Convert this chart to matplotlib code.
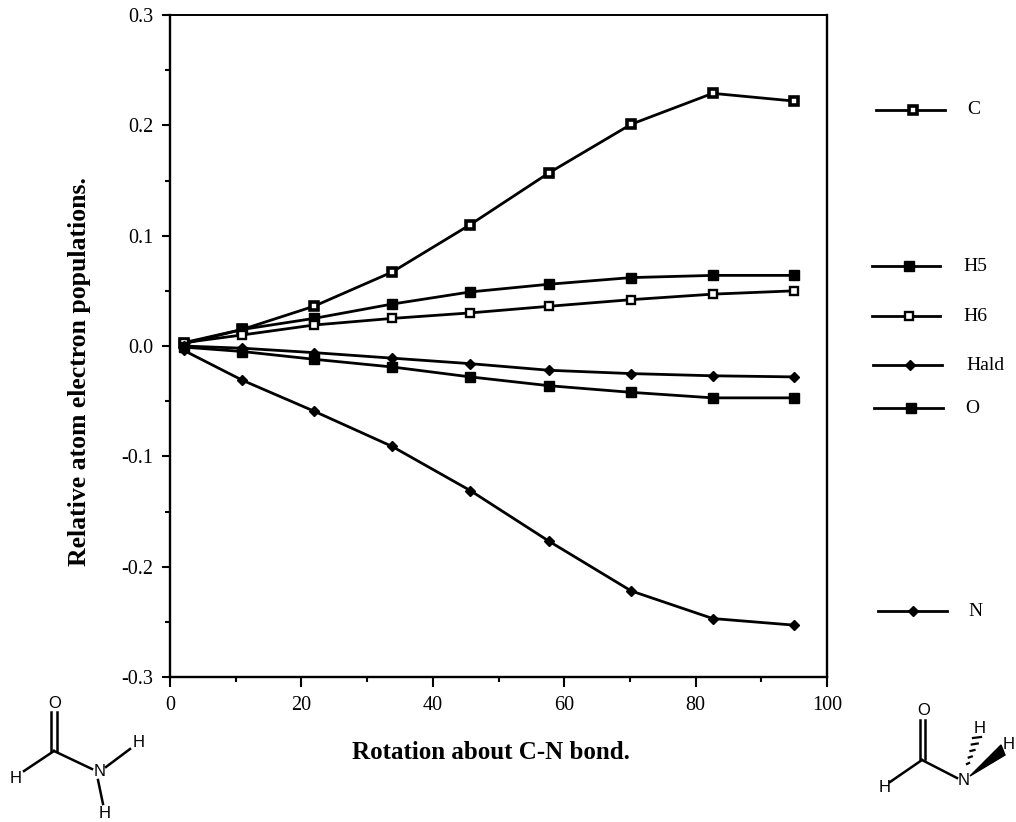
#Recreating the rotation about C-N bond population chart
import numpy as np
import matplotlib
matplotlib.use('Agg')
import matplotlib.pyplot as plt
from matplotlib.lines import Line2D
from matplotlib.patches import Polygon

#Rotation angles
rotation = [2.1, 11.0, 21.9, 33.8, 45.7, 57.7, 70.2, 82.6, 95.0]

#Relative populations for each atom
pop_C = [0.003, 0.015, 0.036, 0.067, 0.110, 0.157, 0.201, 0.229, 0.222]
pop_H5 = [0.002, 0.015, 0.025, 0.038, 0.049, 0.056, 0.062, 0.064, 0.064]
pop_H6 = [0.003, 0.010, 0.019, 0.025, 0.030, 0.036, 0.042, 0.047, 0.050]
pop_Hald = [0.000, -0.002, -0.006, -0.011, -0.016, -0.022, -0.025, -0.027, -0.028]
pop_O = [-0.001, -0.005, -0.012, -0.019, -0.028, -0.036, -0.042, -0.047, -0.047]
pop_N = [-0.004, -0.031, -0.059, -0.091, -0.131, -0.177, -0.222, -0.247, -0.253]

x_ticks = [0, 20, 40, 60, 80, 100]
y_ticks = [-0.3, -0.2, -0.1, 0.0, 0.1, 0.2, 0.3]
y_labels = ['-0.3', '-0.2', '-0.1', '0.0', '0.1', '0.2', '0.3']

W, H = 1016, 822
fig = plt.figure(figsize=(W / 100, H / 100), dpi=100)
ax = fig.add_axes([170 / W, 1 - 677 / H, 657 / W, 662 / H])

#marker styles per series: marker, size, fill
styles = [
    ('C', pop_C, 's', 6, 'white', 2.6),
    ('H5', pop_H5, 's', 6.5, 'black', 1.0),
    ('H6', pop_H6, 's', 6, 'white', 1.7),
    ('Hald', pop_Hald, 'D', 5, 'black', 1.0),
    ('O', pop_O, 's', 6.5, 'black', 1.0),
    ('N', pop_N, 'D', 5.5, 'black', 1.0),
]
for name, vals, mk, ms, fc, mew in styles:
    ax.plot(rotation, vals, color='black', lw=2.0, marker=mk, ms=ms, mfc=fc, mec='black', mew=mew)

ax.set_xlim(0, 100)
ax.set_ylim(-0.3, 0.3)
ax.set_xticks(x_ticks)
ax.set_xticks(np.arange(0, 101, 10), minor=True)
ax.set_yticks(y_ticks)
ax.set_yticklabels(y_labels)
ax.set_yticks(np.arange(-0.3, 0.31, 0.05), minor=True)
for s in ax.spines.values():
    s.set_linewidth(1.7)
ax.spines['top'].set_linewidth(1.4)
ax.tick_params(which='major', direction='out', length=7, width=1.5, labelsize=14.5, pad=7)
ax.tick_params(which='minor', direction='out', length=3.5, width=1.5)
ax.tick_params(axis='y', which='major', length=6, pad=6)
serif = 'Liberation Serif'
for lab in ax.get_xticklabels() + ax.get_yticklabels():
    lab.set_family(serif)

ax.set_xlabel('Rotation about C-N bond.', family=serif, weight='bold', fontsize=18)
ax.set_ylabel('Relative atom electron populations.', family=serif, weight='bold', fontsize=18.5)
ax.xaxis.set_label_coords(0.4886, -0.097)
ax.yaxis.set_label_coords(-0.12, 0.462)

#hand placed key at right, in pixel coordinates
over = fig.add_axes([0, 0, 1, 1])
over.set_xlim(0, W)
over.set_ylim(H, 0)
over.axis('off')
over.patch.set_alpha(0)

key_rows = [(110, 876, 945, 913, 967), (266, 872, 940, 909, 963), (316, 872, 940, 909, 963),
            (365, 873, 942, 910, 966), (408, 874, 943, 911, 965), (611, 878, 947, 913, 968)]
for (name, vals, mk, ms, fc, mew), (y, x0, x1, xm, xt) in zip(styles, key_rows):
    over.plot([x0, x1], [y, y], color='black', lw=2.0)
    over.plot([xm], [y], marker=mk, ms=ms, mfc=fc, mec='black', mew=mew, color='black')
    over.text(xt, y, name, family=serif, fontsize=14, va='center', ha='left')

#formamide sketches
def bond(x0, y0, x1, y1, lw=1.8):
    over.add_line(Line2D([x0, x1], [y0, y1], color='black', lw=lw))

def atom(x, y, s):
    over.text(x, y, s, family='Liberation Sans', fontsize=12, ha='center', va='center')

#planar one on the left
atom(55, 703, 'O')
bond(51, 712, 51, 751)
bond(57, 712, 57, 751)
bond(54, 751, 24, 771)
bond(54, 751, 92, 769)
atom(16, 778, 'H')
atom(100, 771, 'N')
bond(106, 767, 130, 749)
atom(139, 742, 'H')
bond(98, 780, 103, 804)
atom(105, 813, 'H')

#rotated one on the right
atom(924, 710, 'O')
bond(920, 720, 920, 759)
bond(925, 720, 925, 759)
bond(922, 760, 890, 782)
bond(922, 760, 957, 778)
atom(885, 787, 'H')
atom(964, 780, 'N')
atom(980, 728, 'H')
atom(1009, 744, 'H')
over.add_patch(Polygon([(970, 776), (1001, 745), (1005, 755)], closed=True, color='black'))
#hashed bond
for t, w in zip(np.linspace(0, 1, 5), [1, 1.5, 2, 3, 4]):
    cx = 968 + t * (977 - 968)
    cy = 764 + t * (738 - 764)
    bond(cx - w, cy, cx + w, cy - 1, lw=1.6)

fig.savefig('out.png', dpi=100)
